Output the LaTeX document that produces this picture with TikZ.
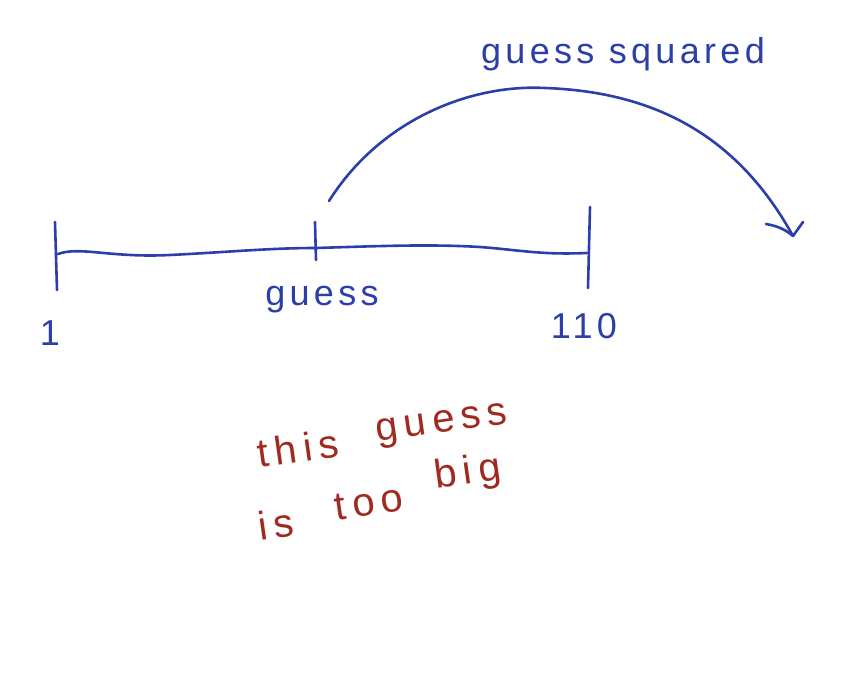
\documentclass[tikz,border=0pt]{standalone}
\usepackage{fontspec}
\setmainfont{Liberation Sans}
\definecolor{pen}{RGB}{44,62,168}
\definecolor{redpen}{RGB}{160,42,32}
\tikzset{
  stroke/.style={draw=pen, line width=2.6pt, line cap=round, line join=round},
  bluetext/.style={text=pen, inner sep=0pt, font=\fontsize{36}{40}\selectfont\addfontfeature{LetterSpace=12}},
  redtext/.style={text=redpen, inner sep=0pt, font=\fontsize{40}{44}\selectfont\addfontfeature{LetterSpace=16}},
}
\begin{document}
\begin{tikzpicture}[x=1pt,y=-1pt]
\useasboundingbox (0,0) rectangle (860,675);
% number line
\coordinate (L) at (58,254);
\coordinate (M) at (316,248);
\coordinate (R) at (587,253);
\draw[stroke] (L) .. controls (80,246) and (110,258) .. (170,255)
  .. controls (230,252) and (270,248) .. (M)
  .. controls (380,246) and (430,244) .. (480,247)
  .. controls (520,250) and (540,255) .. (R);
\draw[stroke] (55,222) -- (57,290);
\draw[stroke] (315,222) -- (316,260);
\draw[stroke] (590,207) -- (588,288);
% labels
\node[bluetext] (one) at (50,333) {1};
\node[bluetext] (guess) at (322,300) {guess};
\node[bluetext] (ten) at (584,326) {110};
\node[bluetext] (sq) at (623,54) {guess squared};
% arc
\coordinate (A0) at (329,201);
\coordinate (A1) at (793,236);
\draw[stroke] (A0) .. controls (380,120) and (470,84) .. (545,88)
  .. controls (660,92) and (740,140) .. (A1);
\draw[stroke] (766,224) .. controls (778,226) and (786,230) .. (A1);
\draw[stroke] (803,222) -- (A1);
% red note
\node[redtext, rotate=8] (w1) at (298,448) {this};
\node[redtext, rotate=8] (w2) at (442,426) {guess};
\node[redtext, rotate=8] (w3) at (276,524) {is};
\node[redtext, rotate=8] (w4) at (369,503) {too};
\node[redtext, rotate=8] (w5) at (468,474) {big};
\end{tikzpicture}
\end{document}
